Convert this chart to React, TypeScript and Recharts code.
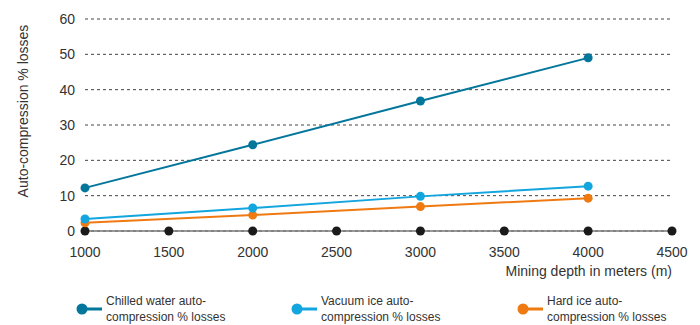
import { CartesianGrid, Label, Legend, Line, LineChart, XAxis, YAxis } from "recharts";

const depths = [1000, 1500, 2000, 2500, 3000, 3500, 4000, 4500];
const chilledWater = [12.2, null, 24.4, null, 36.8, null, 49.0, null];
const vacuumIce = [3.4, null, 6.5, null, 9.8, null, 12.7, null];
const hardIce = [2.3, null, 4.5, null, 6.9, null, 9.3, null];
const yTicks = [0, 10, 20, 30, 40, 50, 60];

const seriesInfo = [
  { key: "chilled", color: "#03769c", label: ["Chilled water auto-", "compression % losses"], left: 76 },
  { key: "vacuum", color: "#12a5de", label: ["Vacuum ice auto-", "compression % losses"], left: 291 },
  { key: "hard", color: "#ef7a12", label: ["Hard ice auto-", "compression % losses"], left: 517 },
];

const data = depths.map((depth, i) => ({
  depth,
  chilled: chilledWater[i],
  vacuum: vacuumIce[i],
  hard: hardIce[i],
  base: 0,
}));

const font = "'Liberation Sans', Arial, sans-serif";

function LegendBox() {
  return (
    <div style={{ position: "relative", height: 44, width: 700, fontFamily: font }}>
      {seriesInfo.map((s) => (
        <div key={s.key} style={{ position: "absolute", left: s.left, top: 12, display: "flex", alignItems: "center" }}>
          <svg width={26} height={14} style={{ marginRight: 4 }}>
            <line x1={6} y1={7} x2={26} y2={7} stroke={s.color} strokeWidth={3} />
            <circle cx={6} cy={7} r={5.5} fill={s.color} />
          </svg>
          <div style={{ fontSize: 12, lineHeight: "16px", color: "#333" }}>
            {s.label[0]}
            <br />
            {s.label[1]}
          </div>
        </div>
      ))}
    </div>
  );
}

export default function App() {
  return (
    <div style={{ position: "absolute", left: 0, top: 0, width: 700, height: 325, background: "#fff" }}>
      <LineChart width={700} height={325} data={data} margin={{ top: 19, right: 28, left: 0, bottom: 0 }}>
        <CartesianGrid vertical={false} stroke="#444" strokeDasharray="3 3" />
        <XAxis
          dataKey="depth"
          type="number"
          domain={[1000, 4500]}
          ticks={depths}
          axisLine={{ stroke: "#777", strokeWidth: 1.5 }}
          tickLine={false}
          tickMargin={10}
          height={50}
          tick={{ fontSize: 14, fill: "#333", fontFamily: font }}
        >
          <Label
            value="Mining depth in meters (m)"
            position="insideBottomRight"
            offset={0}
            dy={-5}
            style={{ fontSize: 14, fill: "#333", fontFamily: font }}
          />
        </XAxis>
        <YAxis
          domain={[0, 60]}
          ticks={yTicks}
          axisLine={false}
          tickLine={false}
          width={85}
          tickMargin={4}
          tick={{ fontSize: 14, fill: "#333", fontFamily: font }}
        >
          <Label
            value="Auto-compression % losses"
            angle={-90}
            position="insideLeft"
            offset={23}
            dy={-14}
            style={{ fontSize: 14, fill: "#333", fontFamily: font, textAnchor: "middle" }}
          />
        </YAxis>
        <Legend verticalAlign="bottom" height={44} content={() => <LegendBox />} />
        <Line
          dataKey="base"
          stroke="none"
          dot={{ r: 4.5, fill: "#1a1a1a", stroke: "none" }}
          isAnimationActive={false}
          legendType="none"
        />
        <Line
          dataKey="hard"
          stroke="#ef7a12"
          strokeWidth={2}
          connectNulls
          dot={{ r: 4.5, fill: "#ef7a12", stroke: "none" }}
          isAnimationActive={false}
        />
        <Line
          dataKey="vacuum"
          stroke="#12a5de"
          strokeWidth={2}
          connectNulls
          dot={{ r: 4.5, fill: "#12a5de", stroke: "none" }}
          isAnimationActive={false}
        />
        <Line
          dataKey="chilled"
          stroke="#03769c"
          strokeWidth={2}
          connectNulls
          dot={{ r: 4.5, fill: "#03769c", stroke: "none" }}
          isAnimationActive={false}
        />
      </LineChart>
    </div>
  );
}
